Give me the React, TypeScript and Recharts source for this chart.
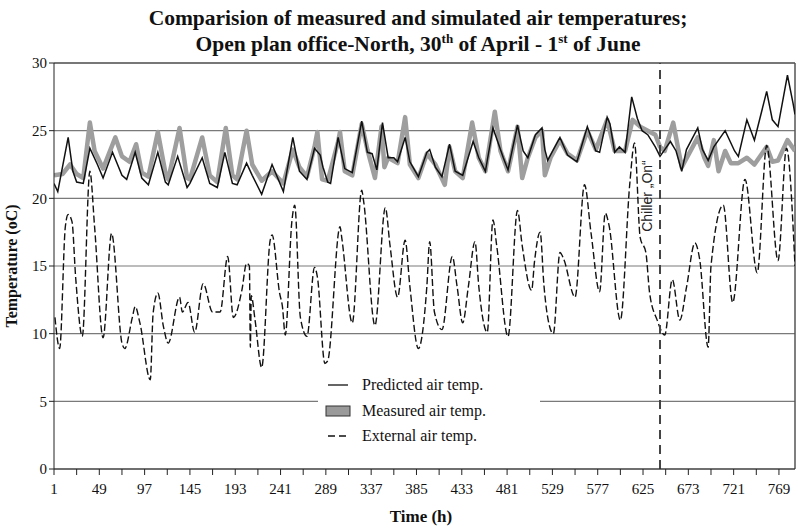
import React from 'react';
import { LineChart, Line, XAxis, YAxis, CartesianGrid, ReferenceLine, Legend } from 'recharts';

const xTicks = [1, 25, 49, 73, 97, 121, 145, 169, 193, 217, 241, 265, 289, 313, 337, 361, 385, 409, 433, 457, 481, 505, 529, 553, 577, 601, 625, 649, 673, 697, 721, 745, 769];
const yTicks = [0, 5, 10, 15, 20, 25, 30];

const predHours = [1, 5, 16, 21, 25, 32, 39, 47, 53, 63, 73, 78, 87, 94, 101, 111, 119, 122, 132, 142, 145, 158, 166, 174, 182, 190, 195, 205, 211, 221, 232, 244, 254, 261, 269, 277, 283, 286, 291, 294, 302, 309, 317, 327, 333, 338, 343, 349, 355, 361, 365, 373, 378, 387, 396, 399, 405, 412, 420, 426, 434, 445, 451, 458, 466, 471, 477, 482, 492, 498, 503, 511, 518, 521, 524, 527, 537, 545, 555, 566, 575, 579, 587, 590, 595, 600, 606, 613, 619, 624, 630, 638, 643, 648, 654, 660, 666, 671, 683, 688, 694, 700, 712, 722, 726, 735, 743, 756, 762, 768, 778, 784, 786];
const predValues = [21.1, 20.5, 24.5, 22.0, 21.2, 21.1, 23.7, 22.5, 21.5, 23.4, 21.7, 21.4, 23.4, 21.5, 21.0, 23.4, 21.2, 21.0, 23.1, 20.8, 21.1, 23.0, 21.1, 20.8, 23.4, 21.1, 21.0, 22.6, 21.7, 20.3, 22.5, 20.5, 24.5, 22.0, 21.4, 23.7, 23.2, 22.3, 21.2, 21.1, 24.5, 22.2, 21.9, 25.7, 23.4, 23.3, 22.1, 25.6, 23.0, 23.0, 22.7, 24.5, 22.7, 21.6, 23.4, 23.6, 22.3, 21.6, 24.0, 22.0, 21.7, 24.2, 23.0, 22.0, 25.2, 24.2, 23.0, 22.1, 25.4, 23.5, 23.0, 24.7, 25.2, 23.6, 22.8, 23.2, 24.5, 23.2, 22.7, 25.3, 23.5, 23.4, 26.0, 25.5, 23.4, 23.8, 23.4, 27.5, 25.9, 25.0, 24.7, 23.8, 23.1, 23.6, 24.2, 23.5, 22.0, 23.6, 25.2, 23.6, 22.8, 23.8, 25.0, 23.5, 23.1, 25.8, 24.3, 27.9, 25.8, 25.3, 29.1, 27.0, 26.2];

const measHours = [1, 10, 18, 25, 32, 39, 44, 53, 66, 73, 81, 88, 94, 101, 111, 119, 122, 134, 142, 145, 158, 166, 174, 183, 190, 195, 205, 211, 221, 232, 244, 254, 261, 269, 277, 280, 285, 291, 302, 304, 309, 317, 327, 333, 341, 348, 351, 355, 365, 373, 378, 387, 396, 405, 415, 420, 426, 434, 444, 451, 458, 468, 474, 482, 492, 497, 503, 511, 518, 521, 527, 537, 545, 555, 566, 575, 587, 595, 606, 614, 622, 630, 638, 643, 648, 657, 666, 683, 690, 694, 700, 705, 712, 718, 726, 735, 743, 756, 762, 768, 778, 786];
const measValues = [21.7, 21.8, 22.5, 21.8, 21.5, 25.6, 23.5, 22.2, 24.5, 23.1, 22.7, 24.0, 21.9, 21.6, 24.9, 21.9, 21.4, 25.2, 21.5, 21.4, 24.5, 21.7, 21.2, 25.2, 21.7, 21.4, 25.0, 22.5, 21.3, 22.0, 21.1, 23.6, 22.3, 21.6, 23.8, 24.9, 21.4, 21.3, 24.2, 24.9, 22.0, 21.7, 25.5, 23.6, 21.5, 25.3, 22.3, 23.0, 22.6, 26.0, 22.5, 21.5, 23.3, 22.5, 21.0, 23.8, 22.0, 21.5, 25.6, 23.0, 22.0, 26.4, 23.5, 22.0, 25.3, 21.5, 23.0, 24.5, 25.0, 21.7, 23.0, 24.3, 23.3, 22.8, 25.0, 23.6, 25.8, 23.5, 23.5, 25.8, 25.3, 25.0, 24.7, 23.8, 23.5, 25.6, 22.3, 24.5, 23.0, 22.4, 24.3, 22.0, 23.5, 22.6, 22.6, 23.0, 22.5, 23.8, 22.7, 22.8, 24.3, 23.5];

const extHours = [2, 7, 13, 16, 20, 24, 31, 39, 44, 53, 62, 73, 76, 84, 87, 92, 103, 106, 111, 117, 122, 134, 137, 143, 150, 159, 169, 177, 185, 191, 200, 205, 208, 209, 210, 214, 221, 230, 232, 240, 243, 246, 253, 256, 262, 269, 277, 280, 288, 291, 304, 306, 317, 327, 329, 341, 352, 357, 365, 373, 378, 387, 396, 399, 404, 412, 423, 428, 434, 440, 447, 451, 460, 466, 470, 482, 492, 497, 507, 510, 516, 520, 524, 530, 537, 541, 553, 563, 570, 579, 585, 589, 601, 611, 616, 622, 628, 632, 640, 648, 656, 664, 671, 680, 685, 694, 697, 710, 720, 733, 746, 756, 768, 777, 786];
const extValues = [11.2, 8.9, 17.9, 18.8, 18.3, 14.1, 9.8, 22.0, 17.9, 9.7, 17.4, 9.3, 8.9, 11.2, 12.0, 10.8, 6.6, 11.5, 13.0, 10.5, 9.3, 12.7, 11.6, 12.3, 10.1, 13.7, 11.6, 11.6, 15.7, 11.2, 13.2, 15.2, 15.0, 9.0, 12.8, 11.0, 7.5, 16.9, 17.3, 13.0, 12.0, 9.9, 18.3, 19.5, 11.2, 9.8, 14.9, 14.2, 7.8, 8.0, 17.9, 17.0, 10.8, 20.6, 19.8, 10.6, 19.3, 16.5, 12.7, 16.9, 13.5, 8.9, 13.5, 16.8, 11.6, 10.3, 15.7, 13.5, 10.8, 13.5, 16.8, 13.5, 10.1, 18.4, 16.5, 9.8, 19.1, 16.5, 13.2, 15.3, 17.5, 13.6, 11.2, 10.0, 16.0, 15.5, 12.7, 21.0, 17.4, 13.1, 18.9, 18.0, 11.0, 21.1, 24.1, 17.1, 16.0, 13.0, 11.0, 9.9, 14.0, 11.0, 13.4, 16.7, 15.5, 9.0, 15.0, 19.5, 12.3, 21.4, 14.5, 23.9, 15.4, 23.7, 15.0];

const chillerHour = 643;

const zip = (hs: number[], vs: number[]) => hs.map((h, i) => ({ h, v: vs[i] }));
const predData = zip(predHours, predValues);
const measData = zip(measHours, measValues);
const extData = zip(extHours, extValues);

const SERIF = '"Liberation Serif", "Times New Roman", serif';

const XTick = (props: any) => {
  const { x, y, payload } = props;
  if ((payload.value - 1) % 48 !== 0) return <g />;
  return (
    <text x={x} y={y + 17} textAnchor="middle" fontFamily={SERIF} fontSize={15} fill="#111">
      {payload.value}
    </text>
  );
};

const renderLegend = () => (
  <div style={{ background: '#fff', width: 222, height: 80, fontFamily: SERIF, fontSize: 16, color: '#111', position: 'relative' }}>
    <svg width={222} height={80} style={{ position: 'absolute', left: 0, top: 0 }}>
      <line x1={10} x2={30} y1={15} y2={15} stroke="#111" strokeWidth={1.3} />
      <rect x={8} y={36} width={24} height={10} fill="#9a9a9a" stroke="#333" strokeWidth={1} />
      <line x1={10} x2={30} y1={66} y2={66} stroke="#111" strokeWidth={1.3} strokeDasharray="7 4" />
      <text x={44} y={20} fontFamily={SERIF} fontSize={16} fill="#111">Predicted air temp.</text>
      <text x={44} y={46} fontFamily={SERIF} fontSize={16} fill="#111">Measured air temp.</text>
      <text x={44} y={71} fontFamily={SERIF} fontSize={16} fill="#111">External air temp.</text>
    </svg>
  </div>
);

const ChillerLabel = (props: any) => {
  const vb = props.viewBox || {};
  const x = (vb.x || 0) - 8;
  const y = 196;
  return (
    <text x={x} y={y} transform={`rotate(-90, ${x}, ${y})`} textAnchor="middle" fontFamily='"Liberation Sans", Arial, sans-serif' fontSize={14} fill="#222">
      Chiller „On“
    </text>
  );
};

export default function App() {
  return (
    <div style={{ position: 'absolute', left: 0, top: 0, width: 798, height: 532, background: '#fff' }}>
      <div style={{ position: 'absolute', left: 0, top: 5, width: 836, textAlign: 'center', fontFamily: SERIF, fontWeight: 'bold', fontSize: 21.5, lineHeight: '26px', color: '#111', zIndex: 2 }}>
        <div>Comparision of measured and simulated air temperatures;</div>
        <div>
          Open plan office-North, 30<span style={{ fontSize: 13, position: 'relative', top: -8 }}>th</span> of April - 1<span style={{ fontSize: 13, position: 'relative', top: -8 }}>st</span> of June
        </div>
      </div>
      <LineChart width={798} height={532} margin={{ top: 63, right: 3, left: 14, bottom: 33 }}>
        <CartesianGrid horizontal vertical={false} stroke="#7a7a7a" strokeWidth={1.2} />
        <XAxis
          type="number"
          dataKey="h"
          domain={[1, 786]}
          ticks={xTicks}
          interval={0}
          tick={<XTick />}
          tickSize={6}
          stroke="#222"
          height={30}
          allowDataOverflow
          label={(p: any) => (
            <text x={421} y={522} textAnchor="middle" fontFamily={SERIF} fontWeight="bold" fontSize={17} fill="#111">Time (h)</text>
          )}
        />
        <YAxis
          type="number"
          domain={[0, 30]}
          ticks={yTicks}
          width={40}
          tickSize={5}
          stroke="#222"
          tick={{ fontFamily: SERIF, fontSize: 15, fill: '#111' }}
          label={(p: any) => (
            <text x={17} y={266} transform="rotate(-90, 17, 266)" textAnchor="middle" fontFamily={SERIF} fontWeight="bold" fontSize={16} fill="#111">Temperature (oC)</text>
          )}
        />
        <ReferenceLine y={30} stroke="#333" strokeWidth={1.2} />
        <ReferenceLine x={786} stroke="#555" strokeWidth={1.5} />
        <Line data={measData} dataKey="v" type="linear" stroke="#9e9e9e" strokeWidth={4.5} dot={false} isAnimationActive={false} strokeLinejoin="round" />
        <Line data={predData} dataKey="v" type="linear" stroke="#111" strokeWidth={1.5} dot={false} isAnimationActive={false} />
        <Line data={extData} dataKey="v" type="monotone" stroke="#111" strokeWidth={1.4} strokeDasharray="7 3" dot={false} isAnimationActive={false} />
        <ReferenceLine x={chillerHour} stroke="#444" strokeWidth={2} strokeDasharray="9 6" label={<ChillerLabel />} />
        <Legend layout="vertical" align="center" verticalAlign="middle" content={renderLegend} wrapperStyle={{ left: 318, top: 370, width: 222, height: 80 }} />
      </LineChart>
    </div>
  );
}
